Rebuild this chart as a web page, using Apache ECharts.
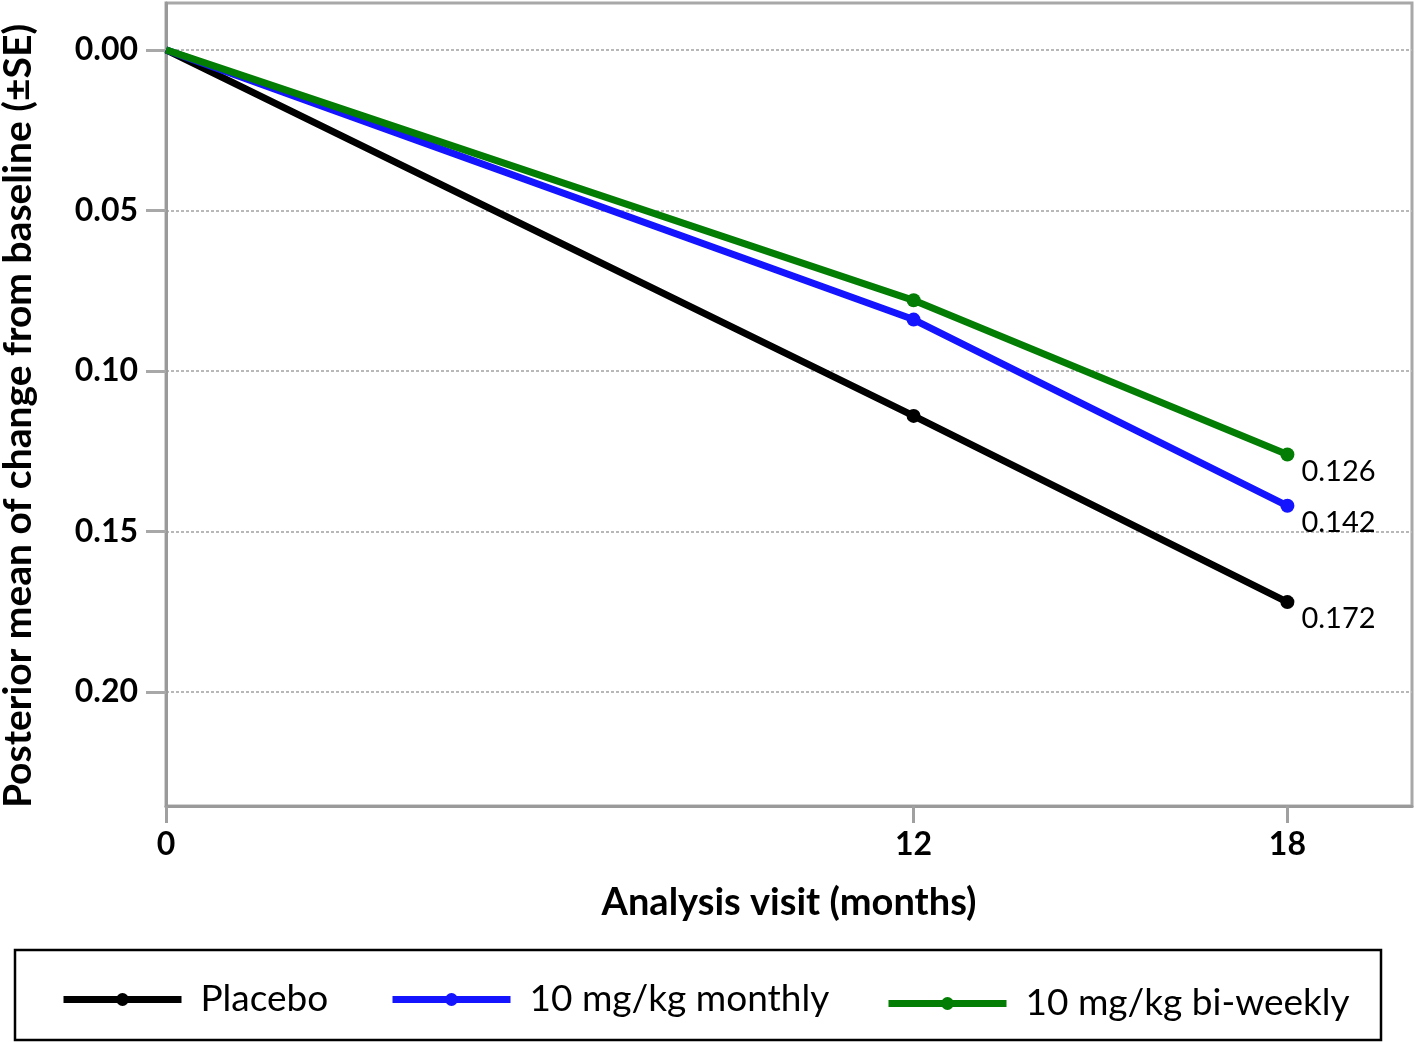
<!DOCTYPE html>
<html><head><meta charset="utf-8">
<script src="https://cdn.jsdelivr.net/npm/echarts@6/dist/echarts.min.js"></script>
<style>html,body{margin:0;padding:0;background:#fff}#c{width:1418px;height:1042px}</style>
</head><body><div id="c"></div>
<script>
const months = [0, 12, 18];
const xTicks = [0, 12, 18];
const yTicks = [0, 0.05, 0.10, 0.15, 0.20];
const placebo = [0, 0.114, 0.172];
const monthly = [0, 0.084, 0.142];
const biweekly = [0, 0.078, 0.126];
const names = ['Placebo', '10 mg/kg monthly', '10 mg/kg bi-weekly'];
const colors = ['#000000', '#1414ff', '#047d04'];

const FONT = 'Lato';
const chart = echarts.init(document.getElementById('c'));
function mk(name, vals, color) {
  return {
    name: name, type: 'line', color: color,
    data: months.map((m, i) => [m, vals[i]]),
    symbol: 'circle',
    symbolSize: (v, p) => p.dataIndex === 0 ? 0 : 14,
    lineStyle: { width: 7, color: color },
    itemStyle: { color: color },
    endLabel: { show: true, formatter: p => p.value[1].toFixed(3), color: '#000', fontFamily: FONT, fontSize: 29, distance: 14, offset: [0, 17] },
    emphasis: { disabled: true }, animation: false, z: 3
  };
}
const legendTops = [981, 981, 985];
const legendLefts = [60, 389, 885];
chart.setOption({
  animation: false,
  grid: { left: 166, right: 6, top: 3, bottom: 236, show: true, borderColor: '#a8a8a8', borderWidth: 3, backgroundColor: '#fff', outerBoundsMode: 'none', containLabel: false },
  xAxis: {
    type: 'value', min: 0, max: 20,
    axisLine: { show: true, onZero: false, lineStyle: { color: '#9a9a9a', width: 3 } },
    axisTick: { show: true, inside: false, customValues: xTicks, length: 17, lineStyle: { color: '#a0a0a0', width: 3 } },
    axisLabel: { customValues: xTicks, fontFamily: FONT, fontWeight: 'bold', fontSize: 32, color: '#000', margin: 23 },
    splitLine: { show: false },
    name: 'Analysis visit (months)', nameLocation: 'middle', nameGap: 78,
    nameTextStyle: { fontFamily: FONT, fontWeight: 'bold', fontSize: 38, color: '#000' }
  },
  yAxis: {
    type: 'value', inverse: true, min: -0.0146, max: 0.2355,
    axisLine: { show: true, onZero: false, lineStyle: { color: '#9a9a9a', width: 3 } },
    axisTick: { show: true, inside: false, customValues: yTicks, length: 20, lineStyle: { color: '#a8a8a8', width: 3 } },
    axisLabel: { customValues: yTicks, formatter: v => v.toFixed(2), fontFamily: FONT, fontWeight: 'bold', fontSize: 32, color: '#000', margin: 28 },
    splitLine: { show: true, lineStyle: { color: '#b8b8b8', width: 2, type: [3, 2] } },
    name: 'Posterior mean of change from baseline (\u00B1SE)', nameLocation: 'middle', nameGap: 128,
    nameTextStyle: { fontFamily: FONT, fontWeight: 'bold', fontSize: 39, color: '#000', padding: [0, 23, 0, 0] }
  },
  legend: names.map((n, i) => ({
    data: [n], left: legendLefts[i], top: legendTops[i], padding: 0,
    itemWidth: 118, itemHeight: 16, itemGap: 0,
    lineStyle: { width: 7 },
    textStyle: { fontFamily: FONT, fontSize: 37, color: '#000', padding: [0, 0, 0, 14] },
    selectedMode: false
  })),
  graphic: [{ type: 'rect', shape: { x: 15, y: 950, width: 1366, height: 90 }, style: { fill: 'none', stroke: '#000', lineWidth: 2.5 }, silent: true }],
  series: [mk(names[0], placebo, colors[0]), mk(names[1], monthly, colors[1]), mk(names[2], biweekly, colors[2])]
});
</script></body></html>
